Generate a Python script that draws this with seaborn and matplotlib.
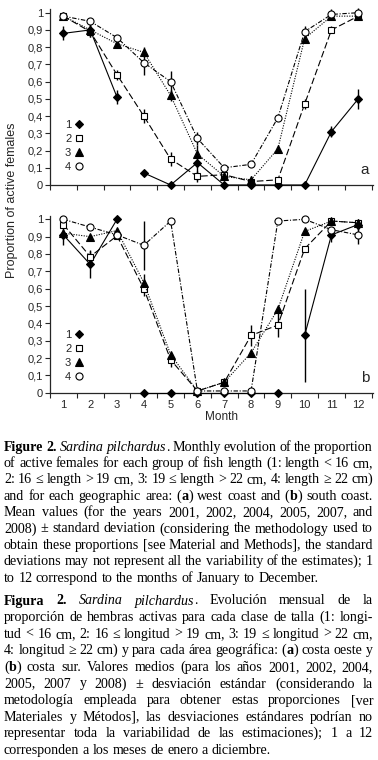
import numpy as np
import pandas as pd
import seaborn as sns
import matplotlib
matplotlib.use("Agg")
import matplotlib.pyplot as plt
from matplotlib.lines import Line2D

# ---------------------------------------------------------------
# Data
# ---------------------------------------------------------------
months = list(range(1, 13))
month_labels = [str(m) for m in months]
y_ticks = [i / 10 for i in range(11)]
y_tick_labels = ["0"] + ["0,%d" % i for i in range(1, 10)] + ["1"]
groups = ["1", "2", "3", "4"]
one_run = [0] * 12

# panel a - west coast
a1 = [0.88, 0.90, 0.51, 0.07, 0.00, 0.13, 0.00, 0.00, 0.00, 0.00, 0.31, 0.50]
a1_sd = [0.04, 0.04, 0.04, 0.0, 0.0, 0.10, 0.0, 0.0, 0.0, 0.0, 0.03, 0.06]
a1_run = [0, 0, 0, 1, 1, 1, 1, 1, 1, 1, 1, 1]
a2 = [0.98, 0.89, 0.64, 0.40, 0.15, 0.05, 0.06, 0.02, 0.03, 0.47, 0.90, 0.98]
a2_sd = [0.01, 0.02, 0.03, 0.04, 0.04, 0.03, 0.0, 0.0, 0.0, 0.03, 0.02, 0.01]
a3 = [0.98, 0.90, 0.82, 0.77, 0.52, 0.18, 0.05, 0.03, 0.21, 0.85, 0.98, 0.98]
a3_sd = [0.0, 0.04, 0.0, 0.03, 0.03, 0.0, 0.0, 0.02, 0.0, 0.0, 0.02, 0.02]
a4 = [0.98, 0.95, 0.855, 0.71, 0.60, 0.27, 0.10, 0.12, 0.39, 0.89, 0.99, 1.00]
a4_sd = [0.0, 0.0, 0.0, 0.07, 0.06, 0.04, 0.0, 0.0, 0.0, 0.03, 0.03, 0.03]

# panel b - south coast
b1 = [0.91, 0.74, 1.00, 0.00, 0.00, 0.00, 0.00, 0.00, 0.00, 0.33, 0.91, 0.97]
b1_sd = [0.06, 0.08, 0.0, 0.0, 0.0, 0.0, 0.0, 0.0, 0.0, 0.27, 0.04, 0.03]
b1_run = [0, 0, 0, 1, 1, 1, 1, 1, 1, 2, 2, 2]
b2 = [0.97, 0.785, 0.905, 0.60, 0.19, 0.01, 0.06, 0.33, 0.39, 0.83, 0.99, 0.98]
b2_sd = [0.0, 0.04, 0.0, 0.04, 0.04, 0.0, 0.0, 0.06, 0.07, 0.0, 0.02, 0.0]
b3 = [0.92, 0.90, 0.935, 0.635, 0.22, 0.01, 0.06, 0.23, 0.48, 0.93, 0.99, 0.98]
b3_sd = [0.0, 0.0, 0.0, 0.05, 0.0, 0.0, 0.0, 0.0, 0.0, 0.0, 0.0, 0.0]
b4 = [1.00, 0.955, 0.91, 0.85, 0.99, 0.01, 0.01, 0.01, 0.99, 1.00, 0.94, 0.91]
b4_sd = [0.0, 0.0, 0.0, 0.14, 0.0, 0.0, 0.0, 0.0, 0.0, 0.0, 0.0, 0.05]

caption_en = [
    "*Figure 2.* _Sardina pilchardus_. Monthly evolution of the proportion",
    "of active females for each group of fish length (1: length < 16 cm,",
    "2: 16 ≤ length > 19 cm, 3: 19 ≤ length > 22 cm, 4: length ≥ 22 cm)",
    "and for each geographic area: (*a*) west coast and (*b*) south coast.",
    "Mean values (for the years 2001, 2002, 2004, 2005, 2007, and",
    "2008) ± standard deviation (considering the methodology used to",
    "obtain these proportions [see Material and Methods], the standard",
    "deviations may not represent all the variability of the estimates); 1",
    "to 12 correspond to the months of January to December.",
]
caption_es = [
    "*Figura 2.* _Sardina pilchardus_. Evolución mensual de la",
    "proporción de hembras activas para cada clase de talla (1: longi-",
    "tud < 16 cm, 2: 16 ≤ longitud > 19 cm, 3: 19 ≤ longitud > 22 cm,",
    "4: longitud ≥ 22 cm) y para cada área geográfica: (*a*) costa oeste y",
    "(*b*) costa sur. Valores medios (para los años 2001, 2002, 2004,",
    "2005, 2007 y 2008) ± desviación estándar (considerando la",
    "metodología empleada para obtener estas proporciones [ver",
    "Materiales y Métodos], las desviaciones estándares podrían no",
    "representar toda la variabilidad de las estimaciones); 1 a 12",
    "corresponden a los meses de enero a diciembre.",
]

# ---------------------------------------------------------------
# Style
# ---------------------------------------------------------------
sns.set_style("ticks")
plt.rcParams["font.family"] = ["Liberation Sans Narrow", "Liberation Sans", "DejaVu Sans"]
plt.rcParams["axes.linewidth"] = 0.9

W, H = 378, 760
fig = plt.figure(figsize=(W / 100, H / 100), dpi=100)
fig.patch.set_facecolor("white")

series_style = [
    dict(marker="D", ms=4.3, mfc="black", ls="-"),
    dict(marker="s", ms=4.7, mfc="white", ls=(0, (6, 2.5))),
    dict(marker="^", ms=5.3, mfc="black", ls=(0, (1, 1.3))),
    dict(marker="o", ms=5.1, mfc="white", ls=(0, (4, 1.5, 1, 1.5))),
]


def px_axes(left, top, right, bottom):
    return fig.add_axes([left / W, 1 - bottom / H, (right - left) / W, (bottom - top) / H])


def draw_panel(ax, vals, sds, runs, letter, show_xlabels, legend_top):
    for i, (v, sd, run) in enumerate(zip(vals, sds, runs)):
        st = series_style[i]
        df = pd.DataFrame({"month": months, "p": v, "run": run})
        sns.lineplot(data=df, x="month", y="p", units="run", estimator=None,
                     ax=ax, color="black", lw=0.8, linestyle=st["ls"],
                     marker=st["marker"], markersize=st["ms"],
                     markerfacecolor=st["mfc"], markeredgecolor="black",
                     markeredgewidth=0.8, clip_on=False, zorder=3 + i)
        ax.errorbar(months, v, yerr=sd, fmt="none", ecolor="black",
                    elinewidth=1.0, capsize=0, clip_on=False, zorder=2)

    ax.set_xlim(0.5, 12.55)
    ax.set_ylim(0, 1.02)
    ax.set_xticks(np.arange(0.5, 13, 1))
    ax.set_xticklabels([])
    ax.set_xticks(months, minor=True)
    if show_xlabels:
        ax.set_xticklabels(month_labels, minor=True)
    ax.tick_params(axis="x", which="major", direction="out", length=3.5, width=0.8)
    ax.tick_params(axis="x", which="minor", length=0, pad=5, labelsize=8)
    ax.set_yticks(y_ticks)
    ax.set_yticklabels(y_tick_labels)
    ax.tick_params(axis="y", direction="out", length=3.5, width=0.8, pad=1.5, labelsize=8)
    ax.set_xlabel("")
    ax.set_ylabel("")
    sns.despine(ax=ax)
    ax.patch.set_alpha(0)
    ax.text(0.975, 0.085, letter, transform=ax.transAxes, fontsize=11,
            ha="center", va="center", family=["Liberation Sans", "DejaVu Sans"])

    handles = [Line2D([], [], color="black", ls="none", marker=s["marker"],
                      markersize=s["ms"], markerfacecolor=s["mfc"],
                      markeredgecolor="black", markeredgewidth=0.8)
               for s in series_style]
    ax.legend(handles, groups, markerfirst=False, frameon=False, loc="upper left",
              bbox_to_anchor=(65 / W, 1 - legend_top / H), bbox_transform=fig.transFigure,
              fontsize=8, handlelength=0.8, handletextpad=0.3,
              labelspacing=0.36, borderpad=0, borderaxespad=0)


ax_a = px_axes(50, 185 - 1.02 * 172.3, 373, 185)
ax_b = px_axes(50, 392.7 - 1.02 * 173.4, 373, 392.7)

draw_panel(ax_a, [a1, a2, a3, a4], [a1_sd, a2_sd, a3_sd, a4_sd],
           [a1_run, one_run, one_run, one_run], "a", False, 120)
draw_panel(ax_b, [b1, b2, b3, b4], [b1_sd, b2_sd, b3_sd, b4_sd],
           [b1_run, one_run, one_run, one_run], "b", True, 330)

fig.text(12 / W, 1 - 200 / H, "Proportion of active females", rotation=90,
         ha="center", va="center", fontsize=9)
fig.text(222 / W, 1 - 417 / H, "Month", ha="center", va="center", fontsize=8.5)

# ---------------------------------------------------------------
# Caption (justified serif text)
# ---------------------------------------------------------------
renderer = fig.canvas.get_renderer()
CAP_SIZE = 10.1
X0, X1 = 4, 373


def parse(s):
    bold = ital = False
    words, cur = [], []
    for ch in s:
        if ch == "*":
            bold = not bold
            continue
        if ch == "_":
            ital = not ital
            continue
        if ch == " ":
            if cur:
                words.append(cur)
                cur = []
            continue
        st = (bold, ital)
        if cur and cur[-1][1] == st:
            cur[-1] = (cur[-1][0] + ch, st)
        else:
            cur.append((ch, st))
    if cur:
        words.append(cur)
    return words


def make_text(y, txt, st):
    return fig.text(0, y, txt, fontsize=CAP_SIZE, family=["Liberation Serif", "DejaVu Serif"],
                    fontweight="bold" if st[0] else "normal",
                    fontstyle="italic" if st[1] else "normal",
                    va="baseline", ha="left", color="black")


def width(t):
    return t.get_window_extent(renderer).width


def draw_caption(lines, first_px, step):
    for i, line in enumerate(lines):
        y = 1 - (first_px + i * step) / H
        words = []
        for word in parse(line):
            pieces = [(make_text(y, txt, st), st) for txt, st in word]
            words.append([(t, width(t)) for t, st in pieces])
        total = sum(w for word in words for _, w in word)
        if i == len(lines) - 1:
            a = make_text(y, "x x", (False, False))
            b = make_text(y, "xx", (False, False))
            gap = width(a) - width(b)
            a.remove()
            b.remove()
        else:
            gap = (X1 - X0 - total) / (len(words) - 1)
        x = X0
        for word in words:
            for t, w in word:
                t.set_x(x / W)
                x += w
            x += gap


draw_caption(caption_en, 450.5, 16.4)
draw_caption(caption_es, 604.5, 16.6)

fig.savefig("out.png", dpi=100, facecolor="white")
